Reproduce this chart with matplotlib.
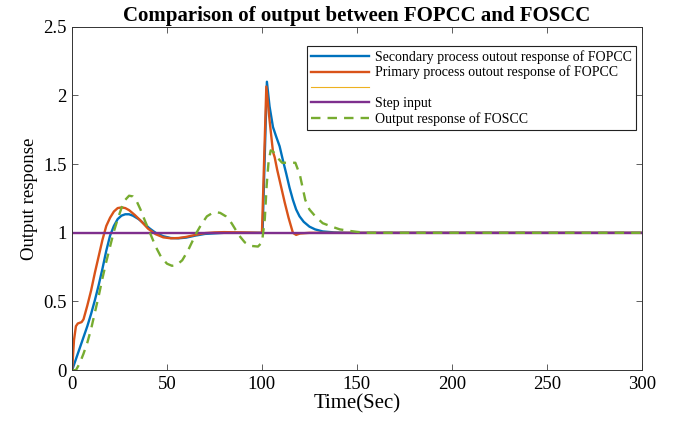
import matplotlib
matplotlib.use("Agg")
from matplotlib import pyplot as plt

# --- data ---
t_sec = [0, 2, 4, 6, 8, 10, 12, 14, 16, 18, 20, 22, 24, 26, 28, 30, 32, 35, 38, 41,
         44, 48, 52, 56, 60, 65, 70, 80, 90, 100.3, 102.6, 104, 105.8, 107.5, 109.3,
         111, 112.8, 114.5, 116.3, 118, 119.8, 122, 125, 128, 132, 138, 145, 300]
y_sec = [0, 0.08, 0.16, 0.24, 0.32, 0.41, 0.51, 0.62, 0.74, 0.87, 0.98, 1.05, 1.10,
         1.125, 1.135, 1.135, 1.125, 1.10, 1.065, 1.03, 1.0, 0.975, 0.962, 0.96, 0.965,
         0.98, 0.992, 1.0, 1.0, 1.0, 2.10, 1.92, 1.77, 1.70, 1.63, 1.53, 1.43, 1.33,
         1.24, 1.17, 1.12, 1.08, 1.045, 1.025, 1.01, 1.003, 1.0, 1.0]

t_pri = [0, 1, 2, 3, 5, 6, 8, 10, 12, 14, 16, 18, 20, 22, 24, 26, 28, 30, 33, 36, 40,
         44, 48, 52, 56, 60, 65, 70, 75, 80, 90, 100, 102.3, 104, 105.8, 106.7, 108,
         110, 112, 114, 116.3, 118, 120, 125, 300]
y_pri = [0, 0.22, 0.32, 0.34, 0.35, 0.37, 0.47, 0.58, 0.71, 0.83, 0.95, 1.05, 1.11,
         1.155, 1.18, 1.185, 1.18, 1.165, 1.13, 1.09, 1.03, 0.99, 0.967, 0.96, 0.962,
         0.97, 0.985, 0.998, 1.003, 1.005, 1.003, 1.0, 2.065, 1.82, 1.59, 1.55, 1.46,
         1.34, 1.22, 1.11, 1.0, 0.985, 0.995, 1.0, 1.0]

t_step = [0, 300]
y_step = [1, 1]

t_foscc = [0, 2, 4, 6, 8, 10, 12, 14, 16, 18, 20, 22, 24, 26, 28, 30, 32, 34, 36, 38,
           41, 44, 47, 50, 52.6, 55, 58, 61, 65.5, 68, 71, 74, 76, 78, 81, 84, 88, 91,
           94, 97.9, 100, 101.5, 102.5, 103.5, 104.6, 106, 108, 110.6, 114, 117.6, 120,
           122.8, 125, 128.1, 132, 136.8, 141, 145.6, 150, 155, 300]
y_foscc = [0, 0, 0.05, 0.12, 0.2, 0.3, 0.42, 0.54, 0.67, 0.79, 0.9, 1.01, 1.1, 1.18,
           1.24, 1.27, 1.265, 1.23, 1.17, 1.1, 1.0, 0.9, 0.82, 0.775, 0.76, 0.765, 0.8,
           0.87, 1.0, 1.06, 1.12, 1.145, 1.15, 1.145, 1.12, 1.07, 0.98, 0.93, 0.905,
           0.90, 0.93, 1.1, 1.35, 1.52, 1.60, 1.59, 1.55, 1.51, 1.51, 1.51, 1.42, 1.24,
           1.17, 1.12, 1.07, 1.045, 1.025, 1.015, 1.007, 1.0, 1.0]

plt.rcParams['font.family'] = ['Liberation Serif', 'DejaVu Serif']

fig = plt.figure(figsize=(6.74, 4.25), dpi=100)
ax = fig.add_axes([0.107, 0.129, 0.845, 0.808])

lw = 1.7
ax.plot(t_sec, y_sec, color='#0072BD', lw=lw, label='Secondary process outout response of FOPCC')
ax.plot(t_pri, y_pri, color='#D95319', lw=lw, label='Primary process outout response of FOPCC')
ax.plot(t_step, y_step, color='#EDB120', lw=0.8, label=' ')
ax.plot(t_step, y_step, color='#7E2F8E', lw=lw, label='Step input')
ax.plot(t_foscc, y_foscc, color='#77AC30', lw=lw, ls=(0, (4, 3)), label='Output response of FOSCC')

ax.set_xlim(0, 300)
ax.set_ylim(0, 2.5)
ax.set_xticks(range(0, 301, 50))
ax.set_yticks([0, 0.5, 1, 1.5, 2, 2.5])
ax.set_yticklabels(['0', '0.5', '1', '1.5', '2', '2.5'])
ax.tick_params(direction='in', top=True, right=True, labelsize=13.5, length=4, width=0.6,
               color='#444444', pad=4)
for s in ax.spines.values():
    s.set_linewidth(0.7)
    s.set_color('#333333')

ax.set_title('Comparison of output between FOPCC and FOSCC', fontsize=15,
             fontweight='bold', pad=4)
ax.set_xlabel('Time(Sec)', fontsize=15, labelpad=1)
ax.set_ylabel('Output response', fontsize=13.5, labelpad=4)

leg = ax.legend(loc='upper right', bbox_to_anchor=(0.99, 0.945), fontsize=10,
                handlelength=4.2, handletextpad=0.4, labelspacing=0.15,
                borderpad=0.3, fancybox=False, framealpha=1, borderaxespad=0)
leg.get_frame().set_edgecolor('#222222')
leg.get_frame().set_linewidth(0.8)

fig.savefig('out.png', dpi=100)
